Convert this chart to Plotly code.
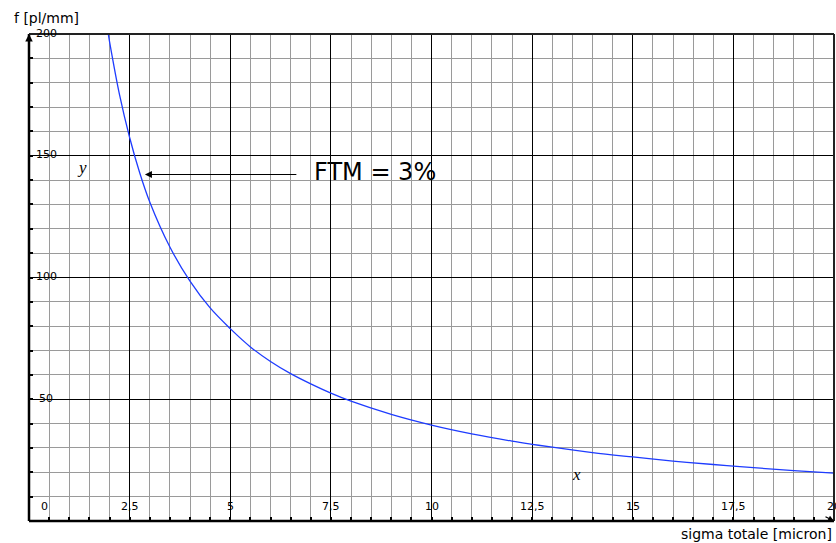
import plotly.graph_objects as go

# data
sigma = [1.97, 2.0, 2.25, 2.5, 2.75, 3.0, 3.5, 4.0, 4.5, 5.0, 5.5, 6.0, 6.5, 7.0, 7.5, 8.0,
         9.0, 10.0, 11.0, 12.0, 12.5, 13.0, 14.0, 15.0, 16.0, 17.0, 17.5, 18.0, 19.0, 20.0]
freq = [200.0, 197.0, 175.0, 157.5, 143.0, 131.0, 112.5, 98.5, 87.5, 79.0, 71.5, 65.5, 60.5,
        56.3, 52.5, 49.2, 43.8, 39.4, 35.8, 32.8, 31.5, 30.3, 28.1, 26.3, 24.6, 23.2, 22.5,
        21.9, 20.7, 19.7]

x_tick_vals = [0, 2.5, 5, 7.5, 10, 12.5, 15, 17.5, 20]
x_tick_text = ["0", "2,5", "5", "7,5", "10", "12,5", "15", "17,5", "20"]
y_tick_vals = [50, 100, 150, 200]
y_tick_text = ["50", "100", "150", "200"]

fig = go.Figure()
fig.add_trace(go.Scatter(x=sigma, y=freq, mode="lines", line_shape="spline",
                         line=dict(color="rgb(30,60,255)", width=1.3), hoverinfo="skip",
                         showlegend=False))

tick_font = dict(family="DejaVu Sans", size=11, color="black")
ann = []
for v, t in zip(x_tick_vals, x_tick_text):
    ann.append(dict(x=v, y=0, xref="x", yref="y", text=t, showarrow=False,
                    xanchor="center", yanchor="bottom", yshift=6,
                    xshift=15 if v == 0 else 0, font=tick_font))
for v, t in zip(y_tick_vals, y_tick_text):
    ann.append(dict(x=0, y=v, xref="x", yref="y", text=t, showarrow=False,
                    xanchor="center", yanchor="middle", xshift=17, yshift=1, font=tick_font))

# axis titles
ann.append(dict(x=0, y=1, xref="paper", yref="paper", text="f [pl/mm]", showarrow=False,
                xanchor="center", yanchor="bottom", xshift=17, yshift=6,
                font=dict(family="DejaVu Sans", size=14, color="black")))
ann.append(dict(x=1, y=0, xref="paper", yref="paper", text="sigma totale [micron]",
                showarrow=False, xanchor="right", yanchor="top", xshift=0, yshift=-3,
                font=dict(family="DejaVu Sans", size=14, color="black")))
# axis letter labels
ann.append(dict(x=1.32, y=145, xref="x", yref="y", text="<i>y</i>", showarrow=False,
                font=dict(family="Liberation Serif", size=17, color="black")))
ann.append(dict(x=13.6, y=19, xref="x", yref="y", text="<i>x</i>", showarrow=False,
                font=dict(family="Liberation Serif", size=17, color="black")))
# FTM label and arrow
ann.append(dict(x=8.6, y=143.5, xref="x", yref="y", text="FTM = 3%", showarrow=False,
                xanchor="center", yanchor="middle",
                font=dict(family="DejaVu Sans", size=24, color="black")))
ann.append(dict(x=2.88, y=142.3, xref="x", yref="y", ax=6.68, ay=142.3, axref="x", ayref="y",
                text="", showarrow=True, arrowhead=2, arrowsize=1.4, arrowwidth=1,
                arrowcolor="black"))
# little axis-end arrows
ann.append(dict(x=0, y=200, xref="x", yref="y", ax=0, ay=10, text="", showarrow=True,
                arrowhead=2, arrowsize=1, arrowwidth=1.5, arrowcolor="black"))
ann.append(dict(x=20, y=0, xref="x", yref="y", ax=-10, ay=-5, text="", showarrow=True,
                arrowhead=2, arrowsize=1, arrowwidth=1.2, arrowcolor="black"))

axis_common = dict(showgrid=True, gridcolor="black", gridwidth=1.3, zeroline=False,
                   showline=False, showticklabels=False, ticks="inside", ticklen=4,
                   tickcolor="black", tickwidth=1.5, mirror=False, layer="below traces")

fig.update_layout(
    width=836, height=543,
    margin=dict(l=29, r=2, t=34, b=22),
    paper_bgcolor="white", plot_bgcolor="white",
    xaxis=dict(range=[0, 20], dtick=2.5, tick0=0,
               minor=dict(dtick=0.5, showgrid=True, gridcolor="#9a9a9a", gridwidth=1.3,
                          ticks="inside", ticklen=4, tickcolor="black", tickwidth=1.5),
               **axis_common),
    yaxis=dict(range=[0, 200], dtick=50, tick0=0,
               minor=dict(dtick=10, showgrid=True, gridcolor="#9a9a9a", gridwidth=1.3,
                          ticks="inside", ticklen=4, tickcolor="black", tickwidth=1.5),
               **axis_common),
    annotations=ann,
    shapes=[
        dict(type="line", xref="paper", yref="paper", x0=0, x1=0, y0=0, y1=1,
             line=dict(color="black", width=2.5)),
        dict(type="line", xref="paper", yref="paper", x0=0, x1=1, y0=0, y1=0,
             line=dict(color="black", width=2.5)),
        dict(type="line", xref="paper", yref="paper", x0=0, x1=1, y0=1, y1=1,
             line=dict(color="#222", width=2)),
        dict(type="line", xref="paper", yref="paper", x0=1, x1=1, y0=0, y1=1,
             line=dict(color="#222", width=2)),
    ],
)

fig.write_html("out.html",
               config={"displayModeBar": False},
               post_script="document.body.style.margin='0';"
                           "document.body.style.overflow='hidden';")
